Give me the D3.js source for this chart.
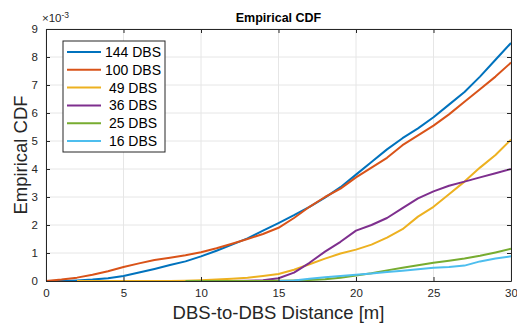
<!DOCTYPE html>
<html>
<head>
<meta charset="utf-8">
<script src="https://cdn.jsdelivr.net/npm/d3@7"></script>
<style>
  body { margin: 0; background: #fff; }
  svg { font-family: "Liberation Sans", Arial, sans-serif; }
</style>
</head>
<body>
<div id="chart"></div>
<script>
// distance grid (m) and CDF values (x 1e-3)
const dist = [0, 1, 2, 3, 4, 5, 6, 7, 8, 9, 10, 11, 12, 13, 14, 15, 16, 17, 18, 19, 20, 21, 22, 23, 24, 25, 26, 27, 28, 29, 30];

const cdf144 = [0, 0, 0.02, 0.05, 0.1, 0.18, 0.3, 0.43, 0.57, 0.7, 0.88, 1.08, 1.3, 1.52, 1.8, 2.07, 2.35, 2.65, 2.98, 3.35, 3.8, 4.25, 4.7, 5.1, 5.45, 5.85, 6.3, 6.75, 7.3, 7.9, 8.5];
const cdf100 = [0, 0.05, 0.12, 0.22, 0.35, 0.5, 0.63, 0.75, 0.83, 0.92, 1.03, 1.17, 1.33, 1.5, 1.68, 1.9, 2.25, 2.65, 3.0, 3.3, 3.7, 4.05, 4.4, 4.85, 5.2, 5.55, 5.95, 6.4, 6.85, 7.3, 7.8];
const cdf49 = [null, null, 0, 0, 0, 0, 0, 0, 0, 0.01, 0.03, 0.05, 0.08, 0.12, 0.18, 0.25, 0.4, 0.6, 0.8, 0.98, 1.12, 1.3, 1.55, 1.85, 2.3, 2.65, 3.1, 3.55, 4.05, 4.5, 5.05];
const cdf36 = [null, null, null, null, null, null, null, null, null, null, 0, 0, 0, 0.01, 0.03, 0.1, 0.3, 0.65, 1.05, 1.4, 1.8, 2.0, 2.25, 2.6, 2.95, 3.2, 3.4, 3.55, 3.7, 3.85, 4.0];
const cdf25 = [null, null, null, null, null, null, null, null, null, 0, 0, 0, 0, 0, 0, 0.01, 0.02, 0.04, 0.06, 0.12, 0.2, 0.28, 0.38, 0.47, 0.56, 0.65, 0.72, 0.8, 0.9, 1.02, 1.15];
const cdf16 = [null, null, null, null, null, null, null, null, null, null, null, null, null, null, null, 0, 0.02, 0.08, 0.13, 0.18, 0.22, 0.27, 0.32, 0.37, 0.42, 0.47, 0.5, 0.55, 0.7, 0.8, 0.88];

const seriesNames = ["144 DBS", "100 DBS", "49 DBS", "36 DBS", "25 DBS", "16 DBS"];
const seriesColors = ["#0072BD", "#D95319", "#EDB120", "#7E2F8E", "#77AC30", "#4DBEEE"];
const seriesValues = [cdf144, cdf100, cdf49, cdf36, cdf25, cdf16];

const xTicks = [0, 5, 10, 15, 20, 25, 30];
const yTicks = [0, 1, 2, 3, 4, 5, 6, 7, 8, 9];

const width = 517, height = 324;
const margin = {top: 29, right: 6, bottom: 43, left: 46};

const svg = d3.select('#chart')
  .append('svg')
  .attr('width', width)
  .attr('height', height);

const x = d3.scaleLinear().domain([0, 30]).range([margin.left, width - margin.right]);
const y = d3.scaleLinear().domain([0, 9]).range([height - margin.bottom, margin.top]);

// grid
svg.append('g')
  .selectAll('line.gx')
  .data(xTicks)
  .join('line')
  .attr('x1', d => x(d)).attr('x2', d => x(d))
  .attr('y1', y(0)).attr('y2', y(9))
  .attr('stroke', '#e6e6e6').attr('stroke-width', 1);
svg.append('g')
  .selectAll('line.gy')
  .data(yTicks)
  .join('line')
  .attr('x1', x(0)).attr('x2', x(30))
  .attr('y1', d => y(d)).attr('y2', d => y(d))
  .attr('stroke', '#e6e6e6').attr('stroke-width', 1);

// curves
const line = d3.line()
  .defined(d => d[1] !== null)
  .x(d => x(d[0]))
  .y(d => y(d[1]));

seriesValues.forEach((vals, i) => {
  svg.append('path')
    .attr('d', line(dist.map((d, j) => [d, vals[j]])))
    .attr('fill', 'none')
    .attr('stroke', seriesColors[i])
    .attr('stroke-width', 2)
    .attr('stroke-linejoin', 'round');
});

// axes (ticks inside, box on)
const axisColor = '#262626';
const xAxis = svg.append('g')
  .attr('transform', `translate(0,${y(0)})`)
  .call(d3.axisBottom(x).tickValues(xTicks).tickSizeInner(-4).tickSizeOuter(0).tickPadding(8));
const yAxis = svg.append('g')
  .attr('transform', `translate(${x(0)},0)`)
  .call(d3.axisLeft(y).tickValues(yTicks).tickSizeInner(-4).tickSizeOuter(0).tickPadding(8));
const xTop = svg.append('g')
  .attr('transform', `translate(0,${y(9)})`)
  .call(d3.axisTop(x).tickValues(xTicks).tickSizeInner(-4).tickSizeOuter(0).tickFormat(''));
const yRight = svg.append('g')
  .attr('transform', `translate(${x(30)},0)`)
  .call(d3.axisRight(y).tickValues(yTicks).tickSizeInner(-4).tickSizeOuter(0).tickFormat(''));

[xAxis, yAxis, xTop, yRight].forEach(g => {
  g.select('.domain').attr('stroke', axisColor).attr('stroke-width', 1);
  g.selectAll('.tick line').attr('stroke', axisColor);
  g.selectAll('.tick text').attr('fill', axisColor).attr('font-size', 11.5)
    .attr('font-family', '"Liberation Sans", Arial, sans-serif');
});

// exponent label
const expo = svg.append('text')
  .attr('x', x(0) - 4).attr('y', margin.top - 7)
  .attr('fill', axisColor).attr('font-size', 11.5);
expo.append('tspan').text('\u00d710');
expo.append('tspan').attr('dy', -4).attr('font-size', 8.5).text('-3');

// title and axis labels
svg.append('text')
  .attr('x', (x(0) + x(30)) / 2).attr('y', 22)
  .attr('text-anchor', 'middle').attr('font-weight', 'bold')
  .attr('font-size', 12.5).attr('fill', '#000')
  .text('Empirical CDF');

svg.append('text')
  .attr('x', (x(0) + x(30)) / 2).attr('y', 319)
  .attr('text-anchor', 'middle').attr('font-size', 18.5).attr('fill', axisColor)
  .text('DBS-to-DBS Distance [m]');

svg.append('text')
  .attr('transform', `translate(27,${(y(0) + y(9)) / 2}) rotate(-90)`)
  .attr('text-anchor', 'middle').attr('font-size', 18.5).attr('fill', axisColor)
  .text('Empirical CDF');

// legend
const legend = svg.append('g');
legend.append('rect')
  .attr('x', 63).attr('y', 41).attr('width', 102).attr('height', 111)
  .attr('fill', '#fff').attr('stroke', axisColor).attr('stroke-width', 1);

const rowY = d3.scalePoint().domain(seriesNames).range([52, 141]);
seriesNames.forEach((name, i) => {
  legend.append('line')
    .attr('x1', 67).attr('x2', 101)
    .attr('y1', rowY(name)).attr('y2', rowY(name))
    .attr('stroke', seriesColors[i]).attr('stroke-width', 2);
  legend.append('text')
    .attr('x', 133).attr('y', rowY(name) + 5)
    .attr('text-anchor', 'middle').attr('font-size', 14).attr('fill', '#000')
    .text(name);
});
</script>
</body>
</html>
